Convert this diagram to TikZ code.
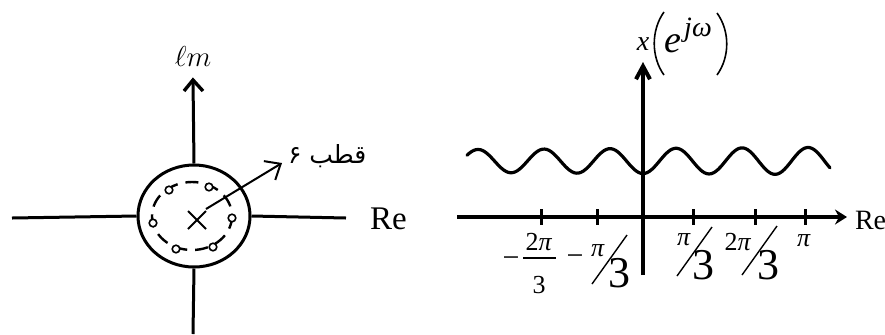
\documentclass[tikz,border=0pt]{standalone}
\usepackage{fontspec}
\setmainfont{Liberation Serif}
\newfontfamily\arabicfont[Script=Arabic]{DejaVu Sans}
\TeXXeTstate=1
\usetikzlibrary{arrows.meta,shapes.geometric}
\begin{document}
\begin{tikzpicture}[x=0.5pt,y=-0.5pt,
  axl/.style={line width=1.5pt},
  axr/.style={line width=2pt},
  txt/.style={inner sep=0pt,outer sep=0pt},
  fs/.style={font=\fontsize{#1}{#1}\selectfont},
  slashl/.style={line width=0.7pt},
  zero/.style={line width=0.8pt}]
\useasboundingbox (0,0) rectangle (885,334);
% ---------------- left: pole-zero plot ----------------
\coordinate (Ltop) at (193,80);
\coordinate (Lbot) at (193,334);
\coordinate (Lleft) at (12,218);
\coordinate (Lright) at (346,218);
\node[draw,ellipse,line width=1.5pt,minimum width=56pt,minimum height=51pt,inner sep=0pt] (ell) at (194,216) {};
\draw[axl] (Ltop) -- (ell.north);
\draw[axl] (ell.south) -- (Lbot);
\draw[axl] (Lleft) -- (ell.west);
\draw[axl] (ell.east) -- (Lright);
\draw[line width=1.7pt] (184,91) -- (Ltop) -- (203,91);
\node[txt,fs=15] (im) at (193,56) {$\ell m$};
\node[txt,fs=16.5,anchor=west] (reL) at (370,219) {Re};
\draw[line width=1.2pt,dash pattern=on 6.5pt off 4pt] (192,216) ellipse [x radius=40,y radius=34];
\foreach \p/\n in {{(153,223)}/z1,{(232,218)}/z2,{(169,190)}/z3,{(209,187)}/z4,{(176,249)}/z5,{(213,247)}/z6}{
  \draw[zero,fill=white] \p circle [radius=3.8];
}
\node[txt,minimum size=9pt] (pole) at (197,220) {};
\draw[line width=1pt] (pole.north west) -- (pole.south east);
\draw[line width=1pt] (pole.south west) -- (pole.north east);
\coordinate (ptip) at (282,163);
\draw[line width=1pt,-{Straight Barb[length=6.5pt,width=11pt]}] (206,209) -- (ptip);
\node[txt,fs=12.5,anchor=west] (lab) at (288,156) {\arabicfont\beginR قطب ۶\endR};
% ---------------- right: spectrum ----------------
\coordinate (Rtop) at (643,62);
\coordinate (Rbot) at (643,275);
\coordinate (Rleft) at (457,217);
\coordinate (Rright) at (847,217);
\draw[axr,-{Stealth[length=6pt,width=7.5pt,inset=2pt]}] (Rleft) -- (Rright);
\draw[axr,-{Straight Barb[length=6.5pt,width=7pt]}] (Rbot) -- (Rtop);
\node[txt,fs=14,anchor=west] (reR) at (855,220) {Re};
\foreach \t in {541,597,693,755,805}{
  \draw[line width=1.5pt] (\t,209) -- (\t,225);
}
\draw[line width=1.6pt,line cap=round] plot[smooth,samples=160,domain=467:830] (\x,{161+(11.5+0.006*(\x-467))*cos(5.4545*(\x-643))});
% title x(e^{jw})
\node[txt,fs=14] (tx) at (643,44) {\textit{x}};
\draw[line width=0.8pt] (664,12) .. controls (651,30) and (651,57) .. (664,75);
\draw[line width=0.8pt] (717,13) .. controls (730,31) and (730,57) .. (717,75);
\node[txt,fs=19] (te) at (673,44) {\textit{e}};
\node[txt,fs=14] (tjw) at (698,30) {\textit{jω}};
% tick labels
\node[txt,fs=15] (m1) at (511,262) {−};
\node[txt,fs=13] (n1) at (539,242) {2\textit{π}};
\draw[line width=0.6pt] (523,258) -- (556,258);
\node[txt,fs=13] (d1) at (539,285) {3};
\node[txt,fs=15] (m2) at (575,260) {−};
\node[txt,fs=13] (n2) at (598,251) {\textit{π}};
\draw[slashl] (592,284) -- (627,235);
\node[txt,fs=22] (d2) at (619,273) {3};
\node[txt,fs=13] (n3) at (684,240) {\textit{π}};
\draw[slashl] (677,276) -- (712,227);
\node[txt,fs=22] (d3) at (703,265) {3};
\node[txt,fs=13] (n4) at (738,242) {2\textit{π}};
\draw[slashl] (742,275) -- (777,226);
\node[txt,fs=22] (d4) at (768,265) {3};
\node[txt,fs=13] (n5) at (804,241) {\textit{π}};
\end{tikzpicture}
\end{document}
